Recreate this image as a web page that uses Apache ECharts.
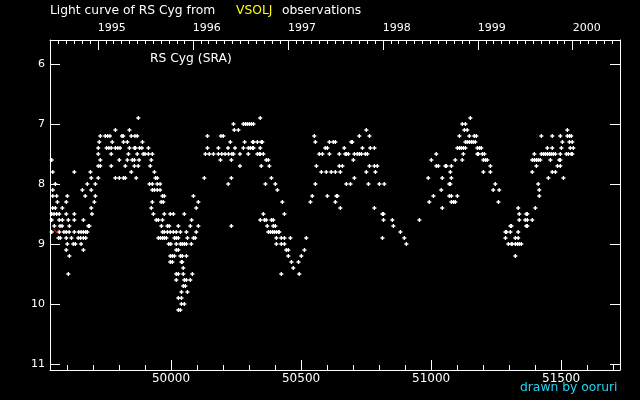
<!DOCTYPE html>
<html>
<head>
<meta charset="utf-8">
<script src="https://cdn.jsdelivr.net/npm/echarts@6/dist/echarts.min.js"></script>
<style>
html, body { margin: 0; background: #000; }
#dv { width: 640px; height: 400px; }
</style>
</head>
<body>
<div id="dv"></div>
<script>
// visual estimates, JD - 2400000, grouped by magnitude row
const magLevels = [6.9, 7.0, 7.1, 7.2, 7.3, 7.4, 7.5, 7.6, 7.7, 7.8, 7.9, 8.0, 8.1, 8.2, 8.3, 8.4, 8.5, 8.6, 8.7, 8.8, 8.9, 9.0, 9.1, 9.2, 9.3, 9.4, 9.5, 9.6, 9.7, 9.8, 9.9, 10.0, 10.1]
const obsJD = [
  [49874, 50343, 51151],
  [50240, 50278, 50286, 50293, 50301, 50309, 50317, 51120, 51132],
  [49786, 49840, 50243, 50259, 50751, 51128, 51139, 51524],
  [49728, 49747, 49756, 49765, 49811, 49816, 49847, 49861, 49870, 50140, 50192, 50201, 50551, 50724, 50763, 51109, 51147, 51166, 51174, 51424, 51466, 51497, 51524, 51532, 51539],
  [49724, 49774, 49817, 49832, 49890, 50228, 50283, 50314, 50317, 50332, 50347, 50351, 50555, 50609, 50624, 50632, 50693, 50697, 51132, 51139, 51147, 51155, 51162, 51170, 51505, 51532, 51543],
  [49720, 49752, 49761, 49770, 49786, 49795, 49804, 49840, 49859, 49863, 49879, 49888, 49913, 50140, 50182, 50219, 50246, 50278, 50297, 50305, 50313, 50317, 50343, 50593, 50601, 50666, 50736, 50766, 50782, 51101, 51109, 51116, 51124, 51132, 51178, 51186, 51193, 51447, 51466, 51501, 51535, 51547],
  [49720, 49770, 49836, 49870, 49893, 49900, 49913, 49928, 50132, 50147, 50163, 50182, 50195, 50208, 50221, 50234, 50240, 50265, 50297, 50332, 50340, 50343, 50355, 50570, 50582, 50609, 50647, 50670, 50674, 50682, 50705, 50716, 50724, 50732, 50747, 50755, 51020, 51124, 51178, 51182, 51197, 51205, 51397, 51424, 51432, 51439, 51447, 51455, 51462, 51470, 51478, 51497, 51520, 51528, 51539, 51543],
  [49541, 49728, 49801, 49832, 49851, 49859, 49877, 49924, 50190, 50232, 50366, 50374, 50701, 51001, 51093, 51120, 51201, 51209, 51216, 51389, 51397, 51405, 51412, 51420, 51459, 51493, 51497],
  [49720, 49728, 49770, 49824, 49859, 49874, 49920, 50265, 50347, 50378, 50559, 50647, 50659, 50763, 50782, 50793, 51020, 51028, 51055, 51059, 51078, 51228, 51405, 51486, 51497],
  [49545, 49628, 49690, 49847, 49936, 50578, 50597, 50616, 50632, 50651, 50751, 50786, 51074, 51201, 51228, 51389, 51466, 51478],
  [49693, 49720, 49786, 49801, 49817, 49824, 49866, 49940, 49947, 50128, 50232, 50386, 50705, 50989, 51043, 51078, 51451, 51509],
  [49555, 49678, 49709, 49917, 49928, 49947, 49958, 50220, 50363, 50401, 50555, 50674, 50690, 50759, 50801, 50820, 51070, 51074, 51247, 51412],
  [49545, 49659, 49693, 49928, 49936, 49947, 49958, 50409, 51039, 51239, 51262, 51416],
  [49545, 49560, 49601, 49670, 49709, 49967, 49974, 50086, 50543, 50601, 50636, 50640, 51009, 51070, 51078, 51101, 51416],
  [49563, 49597, 49705, 49928, 49962, 49970, 50105, 50428, 50536, 50632, 50993, 51078, 51086, 51093, 51259],
  [49545, 49555, 49582, 49693, 49924, 50097, 50651, 50782, 51043, 51335, 51401],
  [49541, 49550, 49560, 49570, 49597, 49628, 49696, 49932, 49974, 49997, 50009, 50051, 50355, 50436, 50813, 50817, 51339, 51366, 51370],
  [49541, 49570, 49582, 49605, 49628, 49663, 49943, 49951, 49967, 50079, 50343, 50359, 50366, 50386, 50393, 50817, 50851, 50955, 51339, 51362, 51370, 51389],
  [49551, 49573, 49581, 49609, 49682, 49686, 49963, 49986, 49993, 50028, 50074, 50105, 50232, 50370, 50393, 50401, 50855, 51305, 51309, 51366, 51370],
  [49541, 49570, 49588, 49597, 49608, 49628, 49645, 49654, 49663, 49672, 49678, 49967, 49974, 49986, 49997, 50009, 50020, 50036, 50059, 50097, 50374, 50382, 50390, 50397, 50405, 50413, 50416, 50882, 51286, 51290, 51305, 51335],
  [49567, 49574, 49597, 49617, 49643, 49652, 49663, 49672, 49951, 49959, 49967, 49974, 49982, 50013, 50020, 50028, 50063, 50086, 50093, 50405, 50424, 50436, 50459, 50520, 50813, 50897, 51286, 51324, 51335],
  [49601, 49624, 49632, 49654, 49991, 49999, 50020, 50036, 50043, 50051, 50059, 50078, 50405, 50424, 50436, 50905, 51297, 51309, 51312, 51324, 51332, 51339, 51347],
  [49597, 49663, 50020, 50028, 50443, 50451, 50513],
  [49609, 49997, 50005, 50013, 50036, 50043, 50059, 50451, 50501, 51324],
  [49997, 50005, 50040, 50043, 50463, 50490],
  [50047, 50470],
  [49605, 50020, 50028, 50047, 50082, 50424, 50493],
  [50020, 50051, 50059, 50074],
  [50047, 50055],
  [50040, 50063],
  [50028, 50040],
  [50040, 50051],
  [50028, 50036]
]
// "fainter than" estimate
const limitJD = [49560]
const limitMag = [8.78]

const bottomMajor = [50000, 50500, 51000, 51500]
const yearLabels = [1995, 1996, 1997, 1998, 1999, 2000]
const magTicks = [6, 7, 8, 9, 10, 11]

const jdMin = 49534.5
const jdMax = 51726.5
const magMin = 5.6
const magMax = 11.1

const font = 'DejaVu Sans'
const white = '#ffffff'

// JD - 2400000 at the start of a month
function jdOf (y, m) {
  return Date.UTC(y, m, 1) / 86400000 + 40587.5
}
const yearJD = yearLabels.map(y => jdOf(y, 0))
const monthJD = []
for (let y = 1994; y <= 2000; y++) {
  for (let m = 1; m < 12; m++) {
    const v = jdOf(y, m)
    if (v > jdMin && v < jdMax) monthJD.push(v)
  }
}
const bottomMinor = []
for (let v = 49600; v <= 51700; v += 100) {
  if (!bottomMajor.includes(v)) bottomMinor.push(v)
}

const points = []
magLevels.forEach((m, i) => {
  obsJD[i].forEach(jd => points.push([jd, m]))
})
const limits = limitJD.map((jd, i) => [jd, limitMag[i]])

const lineStyle = { color: white, width: 1 }
const textStyle = { color: white, fontFamily: font, fontSize: 12.3, fontWeight: 'normal' }

// one axis per tick length; only the first of each side draws the line
function jdAxis (pos, ticks, len, line, label) {
  return {
    type: 'value',
    position: pos,
    min: jdMin,
    max: jdMax,
    splitLine: { show: false },
    axisLine: { show: line, onZero: false, lineStyle },
    axisTick: { show: true, inside: true, length: len, customValues: ticks, lineStyle },
    axisLabel: label || { show: false }
  }
}
function magAxis (pos, label) {
  return {
    type: 'value',
    position: pos,
    inverse: true,
    min: magMin,
    max: magMax,
    splitLine: { show: false },
    axisLine: { show: true, onZero: false, lineStyle },
    axisTick: { show: true, inside: true, length: 10, customValues: magTicks, lineStyle },
    axisLabel: label || { show: false }
  }
}

const chart = echarts.init(document.getElementById('dv'))
const option = {
  backgroundColor: '#000',
  animation: false,
  title: [
    { text: 'Light curve of RS Cyg from', left: 50, top: 5, padding: 0, textStyle },
    { text: 'VSOLJ', left: 236, top: 5, padding: 0, textStyle: Object.assign({}, textStyle, { color: '#ffff00' }) },
    { text: 'observations', left: 282, top: 5, padding: 0, textStyle },
    { text: 'RS Cyg (SRA)', left: 150, top: 53, padding: 0, textStyle },
    { text: 'drawn by ooruri', left: 520, top: 382, padding: 0, textStyle: Object.assign({}, textStyle, { color: '#22d4f0' }) }
  ],
  grid: { left: 50, right: 20, top: 40, bottom: 30 },
  xAxis: [
    jdAxis('bottom', bottomMinor, 5, true, {
      show: true, customValues: bottomMajor, color: white, fontFamily: font, fontSize: 12, margin: 3, formatter: v => String(v)
    }),
    jdAxis('bottom', bottomMajor, 10, false),
    jdAxis('top', monthJD, 4, true, {
      show: true,
      customValues: yearJD,
      color: white,
      fontFamily: font,
      fontSize: 11,
      margin: 6,
      align: 'left',
      formatter: v => String(new Date((v - 40587.5) * 86400000).getUTCFullYear())
    }),
    jdAxis('top', yearJD, 10, false)
  ],
  yAxis: [
    magAxis('left', { show: true, customValues: magTicks, color: white, fontFamily: font, fontSize: 11, margin: 5 }),
    magAxis('right')
  ],
  series: [
    {
      type: 'scatter',
      xAxisIndex: 0,
      yAxisIndex: 0,
      symbol: 'path://M1,0H2V1H3V2H2V3H1V2H0V1H1Z',
      symbolSize: 4,
      itemStyle: { color: white, opacity: 1 },
      data: points
    },
    {
      type: 'scatter',
      xAxisIndex: 0,
      yAxisIndex: 0,
      symbol: 'path://M0,0L2,3L4,0',
      symbolSize: [5, 3],
      itemStyle: { color: 'rgba(0,0,0,0)', borderColor: '#ff2020', borderWidth: 1 },
      data: limits
    }
  ]
}
chart.setOption(option)
</script>
</body>
</html>
